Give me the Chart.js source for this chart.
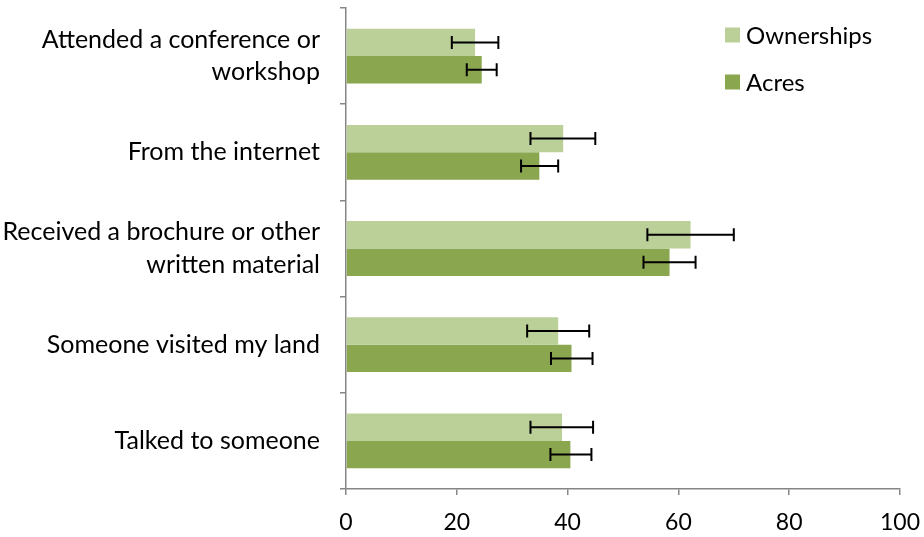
<!DOCTYPE html>
<html>
<head>
<meta charset="utf-8">
<script src="https://cdn.jsdelivr.net/npm/chart.js@4.4.0/dist/chart.umd.min.js"></script>
<style>
  html, body { margin: 0; padding: 0; background: #fff; }
  #wrap { width: 924px; height: 537px; position: relative; }
</style>
</head>
<body>
<div id="wrap"><canvas id="c"></canvas></div>
<script>
const categories = [
  ["Attended a conference or", "workshop"],
  "From the internet",
  ["Received a brochure or other", "written material"],
  "Someone visited my land",
  "Talked to someone"
];
const seriesNames = ["Ownerships", "Acres"];
const ownerships = [23.3, 39.2, 62.2, 38.3, 39.0];
const ownershipsLow = [19.1, 33.3, 54.4, 32.7, 33.3];
const ownershipsHigh = [27.5, 45.0, 70.0, 43.9, 44.6];
const acres = [24.5, 34.9, 58.4, 40.7, 40.5];
const acresLow = [21.8, 31.6, 53.7, 37.0, 36.9];
const acresHigh = [27.2, 38.3, 63.1, 44.5, 44.3];
const xTicks = [0, 20, 40, 60, 80, 100];

const colors = ["#BBCF99", "#8AA64E"];
const FONT = "Lato, 'Open Sans', sans-serif";

const errorLows = [ownershipsLow, acresLow];
const errorHighs = [ownershipsHigh, acresHigh];

const errorBarPlugin = {
  id: 'errorBars',
  afterDatasetsDraw(chart) {
    const ctx = chart.ctx;
    const xs = chart.scales.x;
    ctx.save();
    ctx.strokeStyle = '#000';
    ctx.lineWidth = 2;
    chart.data.datasets.forEach((ds, i) => {
      const meta = chart.getDatasetMeta(i);
      meta.data.forEach((el, j) => {
        const y = el.y;
        const x1 = xs.getPixelForValue(errorLows[i][j]);
        const x2 = xs.getPixelForValue(errorHighs[i][j]);
        ctx.beginPath();
        ctx.moveTo(x1, y); ctx.lineTo(x2, y);
        ctx.moveTo(x1, y - 6.5); ctx.lineTo(x1, y + 6.5);
        ctx.moveTo(x2, y - 6.5); ctx.lineTo(x2, y + 6.5);
        ctx.stroke();
      });
    });
    ctx.restore();
  }
};

const legendPlugin = {
  id: 'customLegend',
  afterDraw(chart) {
    const ctx = chart.ctx;
    ctx.save();
    ctx.font = "24px " + FONT;
    ctx.textBaseline = 'middle';
    ctx.textAlign = 'left';
    chart.data.datasets.forEach((ds, i) => {
      const cy = 35 + i * 47;
      ctx.fillStyle = ds.backgroundColor;
      ctx.fillRect(725, cy - 7.5, 15, 15);
      ctx.fillStyle = '#000';
      ctx.fillText(ds.label, 746, cy + 1);
    });
    ctx.restore();
  }
};

new Chart(document.getElementById('c'), {
  type: 'bar',
  data: {
    labels: categories,
    datasets: [
      { label: seriesNames[0], data: ownerships, backgroundColor: colors[0] },
      { label: seriesNames[1], data: acres, backgroundColor: colors[1] }
    ]
  },
  options: {
    indexAxis: 'y',
    responsive: true,
    maintainAspectRatio: false,
    animation: false,
    layout: { padding: { top: 8, right: 24, left: 0, bottom: 0 } },
    datasets: { bar: { categoryPercentage: 0.57, barPercentage: 1.0 } },
    plugins: { legend: { display: false }, tooltip: { enabled: false } },
    scales: {
      x: {
        min: 0, max: 100,
        afterBuildTicks(scale) { scale.ticks = xTicks.map(v => ({ value: v })); },
        grid: { drawOnChartArea: false, drawTicks: true, tickLength: 6, color: '#868686', lineWidth: 1.5 },
        border: { color: '#868686', width: 1.5 },
        ticks: { color: '#000', font: { family: FONT, size: 23 }, padding: 14, maxRotation: 0 },
        afterFit(scale) { scale.height = 48; scale.paddingLeft = 0; scale.paddingRight = 0; }
      },
      y: {
        grid: { offset: true, drawOnChartArea: false, drawTicks: true, tickLength: 6, color: '#868686', lineWidth: 1.5 },
        border: { color: '#868686', width: 1.5 },
        ticks: { color: '#000', font: { family: FONT, size: 25, lineHeight: 1.3 }, padding: 20 },
        afterFit(scale) { scale.width = 346; scale.paddingTop = 0; scale.paddingBottom = 0; }
      }
    }
  },
  plugins: [errorBarPlugin, legendPlugin]
});
</script>
</body>
</html>
